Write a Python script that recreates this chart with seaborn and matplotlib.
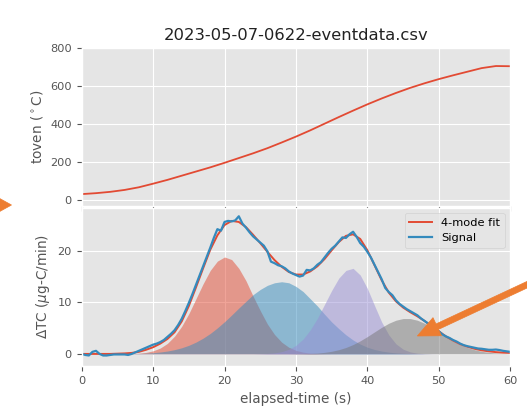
import numpy as np
import pandas as pd
import matplotlib
matplotlib.use("Agg")
import matplotlib.pyplot as plt
import seaborn as sns
from matplotlib.patches import Polygon, FancyArrow
from matplotlib.transforms import IdentityTransform

# ---------------- data ----------------
title = "2023-05-07-0622-eventdata.csv"

oven_time = [0, 2, 4, 6, 8, 10, 12, 14, 16, 18, 20, 22, 24, 26, 28, 30,
             32, 34, 36, 38, 40, 42, 44, 46, 48, 50, 52, 54, 56, 58, 60]
toven = [30, 35, 42, 52, 66, 85, 105, 127, 149, 171, 195, 220, 245, 272, 302, 333,
         366, 401, 436, 470, 503, 534, 563, 590, 614, 636, 656, 675, 694, 705, 704]

mode_time = list(range(61))
mode_1 = [0, 0, 0, 0, 0, 0.01, 0.02, 0.06, 0.13, 0.29, 0.60, 1.14, 2.04, 3.43, 5.35,
          7.8, 10.7, 13.6, 16.2, 18.0, 18.8, 18.3, 16.6, 14.2, 11.2, 8.4, 5.8, 3.77,
          2.28, 1.29, 0.69, 0.34, 0.16, 0.07, 0.03, 0.01] + [0] * 25
mode_2 = [0, 0, 0, 0, 0, 0.02, 0.03, 0.05, 0.09, 0.15, 0.24, 0.37, 0.56, 0.83, 1.19,
          1.67, 2.29, 3.06, 3.97, 5.05, 6.25, 7.55, 8.9, 10.2, 11.5, 12.5, 13.3, 13.8,
          14.0, 13.8, 13.1, 12.1, 10.7, 9.3, 7.7, 6.2, 4.9, 3.7, 2.7, 1.9, 1.3, 0.86,
          0.55, 0.34, 0.20, 0.12, 0.07, 0.04, 0.02] + [0] * 12
mode_3 = [0] * 25 + [0.04, 0.09, 0.2, 0.44, 0.89, 1.66, 2.88, 4.65, 6.9, 9.6, 12.3,
                     14.7, 16.2, 16.6, 15.3, 12.7, 9.4, 6.2, 3.7, 1.96, 0.93, 0.39,
                     0.15, 0.05, 0.02] + [0] * 11
mode_4 = [0] * 30 + [0.02, 0.05, 0.09, 0.17, 0.30, 0.51, 0.82, 1.25, 1.82, 2.54, 3.37,
                     4.27, 5.16, 5.95, 6.54, 6.86, 6.86, 6.54, 5.95, 5.16, 4.27, 3.37,
                     2.54, 1.82, 1.25, 0.82, 0.51, 0.30, 0.17, 0.09, 0.05]

fit = [0.0, 0.0, 0.0, 0.0, 0.0, 0.05, 0.1, 0.2, 0.4, 0.8, 1.3, 2.0, 2.9, 4.2, 6.3,
       9.3, 12.9, 16.6, 20.2, 23.0, 25.0, 25.8, 25.6, 24.6, 23.1, 21.5, 19.8, 18.2,
       16.9, 15.9, 15.4, 15.4, 16.0, 17.0, 18.4, 20.1, 21.7, 22.9, 23.2, 22.3, 20.1,
       17.2, 14.3, 11.9, 10.2, 9.0, 8.1, 7.3, 6.4, 5.4, 4.4, 3.4, 2.6, 1.9, 1.4, 1.0,
       0.7, 0.5, 0.35, 0.25, 0.2]

signal_time = list(np.arange(0, 60.5, 0.5))
signal = [0.0, -0.2, -0.3, 0.4, 0.6, 0.0, -0.3, -0.3, -0.2, -0.1, -0.1, -0.1, -0.1,
          -0.2, 0.0, 0.3, 0.6, 0.9, 1.2, 1.5, 1.8, 2.0, 2.3, 2.7, 3.3, 3.9, 4.6, 5.6,
          6.8, 8.3, 9.9, 11.6, 13.4, 15.2, 17.0, 18.8, 20.6, 22.5, 24.2, 23.9, 25.6,
          25.8, 25.7, 25.9, 26.7, 25.3, 24.5, 23.6, 22.8, 22.2, 21.6, 21.0, 19.9, 17.9,
          17.6, 17.2, 17.0, 16.6, 16.0, 15.6, 15.3, 15.0, 15.2, 16.3, 16.2, 16.6, 17.3,
          17.8, 18.7, 19.6, 20.4, 21.0, 21.8, 22.6, 22.5, 23.2, 23.7, 22.7, 21.5, 20.8,
          19.8, 18.7, 17.3, 15.9, 14.5, 12.8, 12.0, 11.4, 10.4, 9.7, 9.2, 8.7, 8.3, 7.9,
          7.5, 6.9, 6.4, 5.9, 5.4, 4.9, 4.4, 3.8, 3.4, 3.1, 2.7, 2.4, 2.0, 1.7, 1.5,
          1.35, 1.2, 1.05, 1.0, 0.9, 0.8, 0.8, 0.85, 0.75, 0.6, 0.5, 0.4]

# ---------------- style ----------------
plt.style.use("ggplot")
plt.rcParams["font.size"] = 8.2
plt.rcParams["font.family"] = ["DejaVu Sans"]

W, H = 527, 412
fig = plt.figure(figsize=(W / 100, H / 100), dpi=100)
ax1 = fig.add_axes([81.7 / W, 1 - 205.5 / H, (510.2 - 81.7) / W, (205.5 - 48) / H])
ax2 = fig.add_axes([81.7 / W, 1 - 366.3 / H, (510.2 - 81.7) / W, (366.3 - 207.5) / H],
                   sharex=ax1)

colors = ["#E24A33", "#348ABD", "#988ED5", "#777777"]

# top panel
oven_df = pd.DataFrame({"t": oven_time, "toven": toven})
sns.lineplot(data=oven_df, x="t", y="toven", ax=ax1, color=colors[0], lw=1.3)
ax1.set_ylim(-30, 800)
ax1.set_yticks([0, 200, 400, 600, 800])
ax1.set_ylabel(r"toven ($^\circ$C)")
ax1.set_xlabel("")
ax1.tick_params(labelbottom=False)
ax1.set_title(title, color="#222222", pad=6)

# bottom panel: modes
for m, c in zip([mode_1, mode_2, mode_3, mode_4], colors):
    ax2.fill_between(mode_time, 0, m, color=c, alpha=0.5, lw=0)

fit_df = pd.DataFrame({"t": mode_time, "v": fit})
sig_df = pd.DataFrame({"t": signal_time, "v": signal})
sns.lineplot(data=fit_df, x="t", y="v", ax=ax2, color=colors[0], lw=1.4, label="4-mode fit")
sns.lineplot(data=sig_df, x="t", y="v", ax=ax2, color=colors[1], lw=1.6, label="Signal")
ax2.set_xlim(0, 60)
ax2.set_ylim(-2.4, 28.4)
ax2.set_xticks([0, 10, 20, 30, 40, 50, 60])
ax2.set_yticks([0, 10, 20])
ax2.set_xlabel("elapsed-time (s)")
ax2.set_ylabel(r"$\Delta$TC ($\mu$g-C/min)")
ax2.legend(loc="upper right", fontsize=8.2)

# annotation arrows (orange)
orange = "#ED7D31"
tri = Polygon([[-3, H - 197], [-3, H - 213], [11.5, H - 205]], closed=True,
              color=orange, transform=IdentityTransform())
fig.add_artist(tri)
tail = (535, H - 281)
tip = (417.3, H - 336)
arr = FancyArrow(tail[0], tail[1], tip[0] - tail[0], tip[1] - tail[1], width=6,
                 head_width=20, head_length=22, length_includes_head=True,
                 color=orange, transform=IdentityTransform())
fig.add_artist(arr)

fig.savefig("out.png", dpi=100)
